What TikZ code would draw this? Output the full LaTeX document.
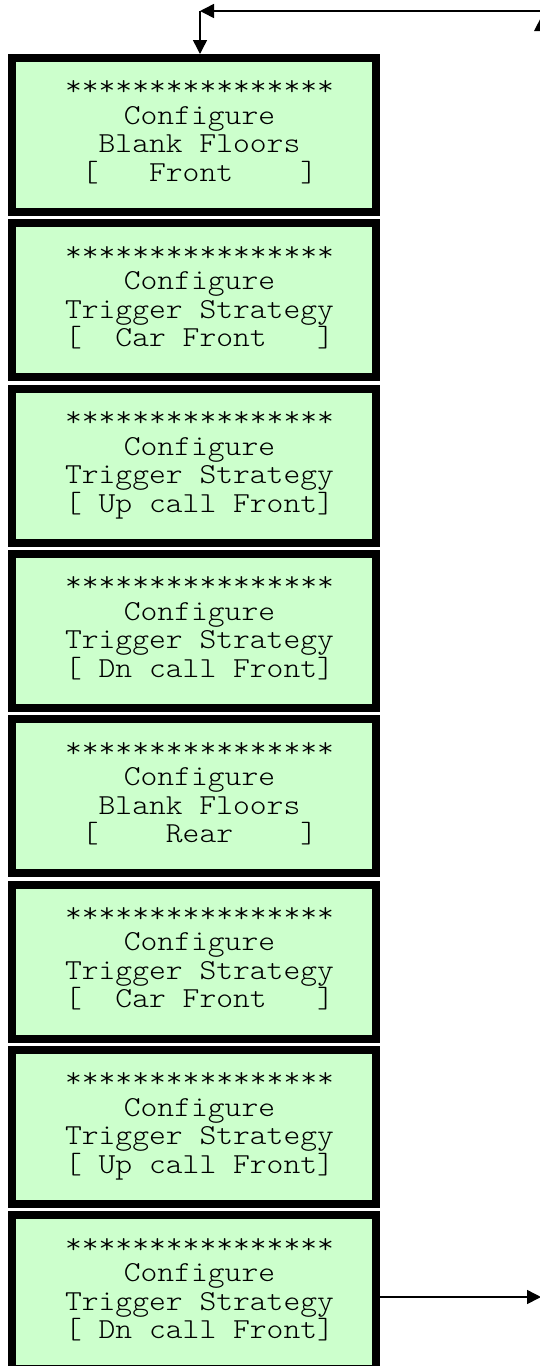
\documentclass[tikz,border=0pt]{standalone}
\usepackage{fontspec}
\usepackage{graphicx}
\usetikzlibrary{arrows.meta,calc}
\definecolor{lcdgreen}{HTML}{CCFFCC}
\newcommand\lcdl[1]{\scalebox{1.1035}[1]{#1}}
\begin{document}
\begin{tikzpicture}[x=1pt,y=-1pt,
  lcdbox/.style={draw=black,fill=lcdgreen,line width=8pt,rectangle,minimum width=364pt,minimum height=154pt,inner sep=0pt},
  lcdtext/.style={font=\ttfamily\fontseries{l}\fontsize{29}{28.5}\selectfont,align=center,inner sep=0pt,anchor=center},
  conn/.style={line width=1.5pt,-{Triangle[length=14pt,width=14pt]}}]
\useasboundingbox (0,0) rectangle (540,1366);
\def\lcd#1#2#3#4{%
  \node[lcdbox] (b#1) at (193.5,{#2+81}) {};
  \node[lcdtext] (t#1) at ([xshift=6pt,yshift=2pt]b#1.center) {\strut\lcdl{****************}\\\lcdl{Configure}\\\lcdl{#3}\\\lcdl{#4}\strut};}
\lcd{1}{54}{Blank~Floors}{[~~~Front~~~~]}
\lcd{2}{219.3}{Trigger~Strategy}{[~~Car~Front~~~]}
\lcd{3}{384.6}{Trigger~Strategy}{[~Up~call~Front]}
\lcd{4}{549.9}{Trigger~Strategy}{[~Dn~call~Front]}
\lcd{5}{715.2}{Blank~Floors}{[~~~~Rear~~~~]}
\lcd{6}{880.5}{Trigger~Strategy}{[~~Car~Front~~~]}
\lcd{7}{1045.8}{Trigger~Strategy}{[~Up~call~Front]}
\lcd{8}{1211.1}{Trigger~Strategy}{[~Dn~call~Front]}
\coordinate (tr) at (541,11);
\coordinate (corner) at (200,11);
\coordinate (rb) at (541.2,60);
\coordinate (rt) at (541.2,17);
\coordinate (br) at (541,1297);
\draw[conn] (tr) -- (corner);
\draw[conn] (corner) -- (corner |- b1.north);
\draw[conn] (rb) -- (rt);
\draw[conn] (b8.east |- br) -- (br);
\end{tikzpicture}
\end{document}
